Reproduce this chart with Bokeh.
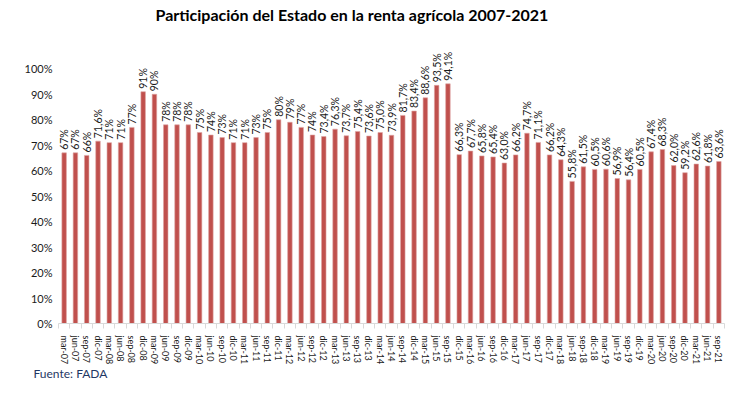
from bokeh.plotting import figure
from bokeh.models import FixedTicker, Range1d, Title, ColumnDataSource
from bokeh.embed import file_html
from bokeh.resources import INLINE
from bokeh.core.properties import value
import math

quarters = ["mar-07", "jun-07", "sep-07", "dic-07",
            "mar-08", "jun-08", "sep-08", "dic-08",
            "mar-09", "jun-09", "sep-09", "dic-09",
            "mar-10", "jun-10", "sep-10", "dic-10",
            "mar-11", "jun-11", "sep-11", "dic-11",
            "mar-12", "jun-12", "sep-12", "dic-12",
            "mar-13", "jun-13", "sep-13", "dic-13",
            "mar-14", "jun-14", "sep-14", "dic-14",
            "mar-15", "jun-15", "sep-15", "dic-15",
            "mar-16", "jun-16", "sep-16", "dic-16",
            "mar-17", "jun-17", "sep-17", "dic-17",
            "mar-18", "jun-18", "sep-18", "dic-18",
            "mar-19", "jun-19", "sep-19", "dic-19",
            "mar-20", "jun-20", "sep-20", "dic-20",
            "mar-21", "jun-21", "sep-21"]

participacion = [67, 67, 66, 71.6,
                 71, 71, 77, 91,
                 90, 78, 78, 78,
                 75, 74, 73, 71,
                 71, 73, 75, 80,
                 79, 77, 74, 73.4,
                 76.3, 73.7, 75.4, 73.6,
                 75.0, 73.9, 81.7, 83.4,
                 88.6, 93.5, 94.1, 66.3,
                 67.7, 65.8, 65.4, 63.0,
                 66.2, 74.7, 71.1, 66.2,
                 64.3, 55.8, 61.5, 60.5,
                 60.6, 56.9, 56.4, 60.5,
                 67.4, 68.3, 62.0, 59.2,
                 62.6, 61.8, 63.6]

etiquetas = ["67%", "67%", "66%", "71,6%",
             "71%", "71%", "77%", "91%",
             "90%", "78%", "78%", "78%",
             "75%", "74%", "73%", "71%",
             "71%", "73%", "75%", "80%",
             "79%", "77%", "74%", "73,4%",
             "76,3%", "73,7%", "75,4%", "73,6%",
             "75,0%", "73,9%", "81,7%", "83,4%",
             "88,6%", "93,5%", "94,1%", "66,3%",
             "67,7%", "65,8%", "65,4%", "63,0%",
             "66,2%", "74,7%", "71,1%", "66,2%",
             "64,3%", "55,8%", "61,5%", "60,5%",
             "60,6%", "56,9%", "56,4%", "60,5%",
             "67,4%", "68,3%", "62,0%", "59,2%",
             "62,6%", "61,8%", "63,6%"]

y_ticks = [0, 10, 20, 30, 40, 50, 60, 70, 80, 90, 100]

idx = list(range(len(quarters)))
src = ColumnDataSource(dict(x=idx, y=participacion, lab=etiquetas))

FONT = "Lato"

p = figure(width=754, height=393, output_backend="svg", toolbar_location=None,
           x_range=Range1d(-0.5, len(quarters) - 0.5), y_range=Range1d(0, 117),
           min_border_left=58, min_border_right=30, min_border_top=0, min_border_bottom=70)
p.outline_line_color = None
p.xgrid.visible = False
p.ygrid.visible = False
p.background_fill_color = "white"
p.border_fill_color = "white"

p.vbar(x="x", top="y", width=0.4, source=src, fill_color="#C0504D",
       line_color="#DDA5A3", line_width=0.6)

p.text(x="x", y="y", text="lab", source=src, angle=math.pi / 2,
       text_align="left", text_baseline="middle", y_offset=-3,
       text_font=value(FONT), text_font_size="10.5px", text_color="#1a1a1a")

# y axis
p.yaxis.ticker = FixedTicker(ticks=y_ticks)
p.yaxis.major_label_overrides = {t: f"{t}%" for t in y_ticks}
p.yaxis.axis_line_color = None
p.yaxis.major_tick_line_color = None
p.yaxis.major_tick_out = 0
p.yaxis.major_tick_in = 0
p.yaxis.minor_tick_line_color = None
p.yaxis.major_label_text_font = FONT
p.yaxis.major_label_text_font_size = "11px"
p.yaxis.major_label_text_color = "#1a1a1a"
p.yaxis.major_label_standoff = 6

# x axis
p.xaxis.ticker = FixedTicker(ticks=idx, minor_ticks=[i - 0.5 for i in idx] + [len(idx) - 0.5])
p.xaxis.major_label_overrides = {i: q for i, q in zip(idx, quarters)}
p.xaxis.major_label_orientation = "vertical"
p.xaxis.axis_line_color = "#D9D9D9"
p.xaxis.major_tick_line_color = None
p.xaxis.major_tick_out = 0
p.xaxis.major_tick_in = 0
p.xaxis.minor_tick_line_color = "#D9D9D9"
p.xaxis.minor_tick_out = 5
p.xaxis.minor_tick_in = 0
p.xaxis.major_label_text_font = FONT
p.xaxis.major_label_text_font_size = "9px"
p.xaxis.major_label_text_color = "#1a1a1a"
p.xaxis.major_label_standoff = 7

p.add_layout(Title(text="Participación del Estado en la renta agrícola 2007-2021",
                   align="left", offset=97, text_font=FONT, text_font_size="16px",
                   text_font_style="bold", text_color="black", standoff=4), "above")
p.add_layout(Title(text="Fuente: FADA", align="left", offset=-25, text_font=FONT,
                   text_font_size="12px", text_font_style="normal",
                   text_color="#1F3864", standoff=-7), "below")

open("out.html", "w").write(file_html(p, INLINE))
